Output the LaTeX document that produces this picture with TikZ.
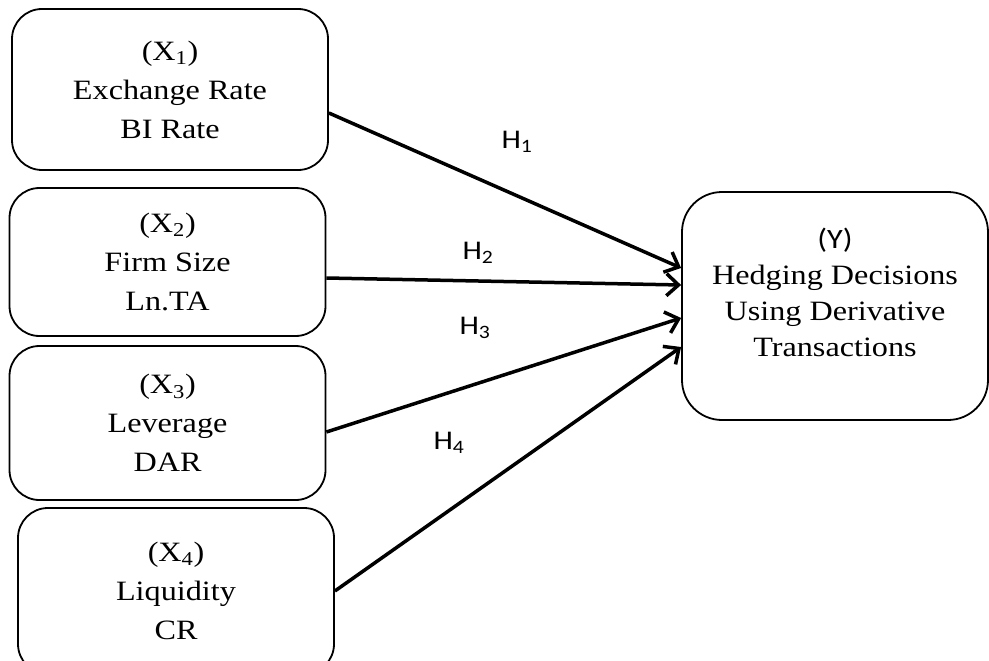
\documentclass[tikz,border=0pt]{standalone}
\usepackage{fontspec}
\setmainfont[FakeStretch=1.15]{Liberation Serif}
\newfontfamily\labelfont[FakeStretch=1.15]{Carlito}
\usetikzlibrary{arrows.meta}

\begin{document}
\begin{tikzpicture}[x=1pt,y=-1pt,
        every node/.style={font=\fontsize{28}{39}\selectfont},
        var/.style={draw, line width=1.8pt, rounded corners=30pt, align=center, minimum width=316pt},
        hyp/.style={font=\labelfont\fontsize{27}{27}\selectfont},
        link/.style={line width=3.5pt, -{Straight Barb[length=12pt,width=22pt,line width=3.5pt]}}]
                \useasboundingbox (0,0) rectangle (989,661);
                \clip (0,0) rectangle (989,661);
                \node[var, minimum height=161pt] (x1) at (170,89.5) {(X\textsubscript{1})\\Exchange Rate\\BI Rate};
                \node[var, minimum height=148pt] (x2) at (167.5,262) {(X\textsubscript{2})\\Firm Size\\Ln.TA};
                \node[var, minimum height=154pt] (x3) at (167.5,423) {(X\textsubscript{3})\\Leverage\\DAR};
                \node[var, minimum height=166pt] (x4) at (176,591) {(X\textsubscript{4})\\Liquidity\\CR};
                \node[var, rounded corners=40pt, minimum width=306pt, minimum height=228pt] (y) at (835,306) {};
                \node[align=center, font=\fontsize{28}{36}\selectfont] (ytext) at (835,292) {{\labelfont (Y)}\\Hedging Decisions\\Using Derivative\\Transactions};
                \draw[link] ([yshift=-23.5pt]x1.east) -- ([yshift=38pt]y.west);
                \draw[link] ([yshift=-16pt]x2.east) -- ([yshift=21pt]y.west);
                \draw[link] ([yshift=-9pt]x3.east) -- ([yshift=-12pt]y.west);
                \draw[link] (x4.east) -- ([yshift=-41pt]y.west);
                \node[hyp] (h1) at (517,142) {H\textsubscript{1}};
                \node[hyp] (h2) at (478,253) {H\textsubscript{2}};
                \node[hyp] (h3) at (475,328) {H\textsubscript{3}};
                \node[hyp] (h4) at (449,443) {H\textsubscript{4}};
            \end{tikzpicture}
\end{document}
